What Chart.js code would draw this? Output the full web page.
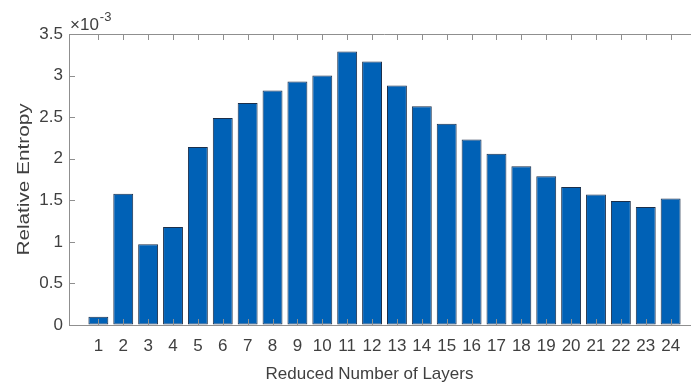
<!DOCTYPE html>
<html>
<head>
<meta charset="utf-8">
<script src="https://cdn.jsdelivr.net/npm/chart.js@4.4.1/dist/chart.umd.min.js"></script>
<style>
  html, body { margin: 0; padding: 0; background: #fff; overflow: hidden; }
  #wrap { width: 691px; height: 386px; overflow: hidden; position: relative; }
  #wrap canvas { position: absolute; left: 0; top: 0; }
</style>
</head>
<body>
<div id="wrap"><canvas id="chart" width="720" height="386" style="width:720px;height:386px"></canvas></div>
<script>
// Reduced number of layers (x categories)
const layers = [1, 2, 3, 4, 5, 6, 7, 8, 9, 10, 11, 12, 13, 14, 15, 16, 17, 18, 19, 20, 21, 22, 23, 24];
// Relative entropy, in units of 10^-3
const relEntropy = [0.10, 1.58, 0.97, 1.18, 2.14, 2.49, 2.67, 2.82, 2.93, 3.00, 3.29, 3.17,
                    2.88, 2.63, 2.42, 2.23, 2.06, 1.91, 1.79, 1.66, 1.57, 1.49, 1.42, 1.52];
// Y tick values (same units)
const yTicks = [0, 0.5, 1, 1.5, 2, 2.5, 3, 3.5];
const yExponent = '-3';

const FONT = '"Liberation Sans", Arial, Helvetica, sans-serif';
const TEXT = '#404040';
const AXIS = '#8f8f8f';
const TICK_LEN = 6;

// MATLAB-style box: inward tick marks, top border line, exponent and axis titles
const boxAxes = {
  id: 'boxAxes',
  afterDatasetsDraw(chart) {
    const { ctx, chartArea: a, scales: { x, y } } = chart;
    ctx.save();
    ctx.strokeStyle = AXIS;
    ctx.lineWidth = 1;
    ctx.beginPath();
    // top border
    ctx.moveTo(a.left, a.top + 0.5);
    ctx.lineTo(a.right, a.top + 0.5);
    // x ticks, top and bottom, pointing inward
    layers.forEach(v => {
      const px = Math.round(x.getPixelForValue(v)) + 0.5;
      ctx.moveTo(px, a.top);
      ctx.lineTo(px, a.top + TICK_LEN);
      ctx.moveTo(px, a.bottom);
      ctx.lineTo(px, a.bottom - TICK_LEN);
    });
    // y ticks on the left, pointing inward
    yTicks.forEach(v => {
      const py = Math.round(y.getPixelForValue(v)) + 0.5;
      ctx.moveTo(a.left, py);
      ctx.lineTo(a.left + TICK_LEN, py);
    });
    ctx.stroke();
    ctx.restore();
  },
  afterDraw(chart) {
    const { ctx, chartArea: a } = chart;
    ctx.save();
    ctx.fillStyle = TEXT;
    // exponent multiplier above the y axis
    ctx.textAlign = 'left';
    ctx.textBaseline = 'alphabetic';
    ctx.font = '17px ' + FONT;
    ctx.fillText('\u00d710', a.left + 1, 30);
    const w = ctx.measureText('\u00d710').width;
    ctx.font = '13px ' + FONT;
    ctx.fillText(yExponent, a.left + 1 + w + 1, 21);
    // x axis title
    ctx.font = '17px ' + FONT;
    ctx.textAlign = 'center';
    ctx.fillText('Reduced Number of Layers', 369.5, 379);
    // y axis title
    ctx.translate(24.5, (a.top + a.bottom) / 2);
    ctx.rotate(-Math.PI / 2);
    ctx.scale(1.22, 1);
    ctx.textBaseline = 'middle';
    ctx.fillText('Relative Entropy', 0, 0);
    ctx.restore();
  }
};

new Chart(document.getElementById('chart'), {
  type: 'bar',
  data: {
    datasets: [{
      data: layers.map((l, i) => ({ x: l, y: relEntropy[i] })),
      backgroundColor: '#0061b6',
      borderColor: '#1c2f4a',
      borderWidth: 1,
      borderSkipped: false,
      barPercentage: 0.8,
      categoryPercentage: 1.0
    }]
  },
  options: {
    responsive: false,
    animation: false,
    devicePixelRatio: 1,
    layout: { padding: { left: 0, top: 34, right: 20, bottom: 0 } },
    plugins: { legend: { display: false }, tooltip: { enabled: false } },
    scales: {
      x: {
        type: 'linear',
        offset: false,
        min: -0.18,
        max: 25.18,
        afterBuildTicks: s => { s.ticks = layers.map(v => ({ value: v })); },
        afterFit: s => { s.height = 61; },
        grid: { drawOnChartArea: false, drawTicks: false, color: 'transparent' },
        border: { display: true, color: AXIS, width: 1 },
        ticks: {
          color: TEXT,
          font: { family: FONT, size: 17 },
          padding: 11,
          maxRotation: 0,
          autoSkip: false,
          callback: v => String(v)
        }
      },
      y: {
        min: 0,
        max: 3.5,
        afterBuildTicks: s => { s.ticks = yTicks.map(v => ({ value: v })); },
        afterFit: s => { s.width = 69; },
        grid: { drawOnChartArea: false, drawTicks: false, color: 'transparent' },
        border: { display: true, color: AXIS, width: 1 },
        ticks: {
          color: TEXT,
          font: { family: FONT, size: 17 },
          padding: 6,
          callback: v => String(v)
        }
      }
    }
  },
  plugins: [boxAxes]
});
</script>
</body>
</html>
